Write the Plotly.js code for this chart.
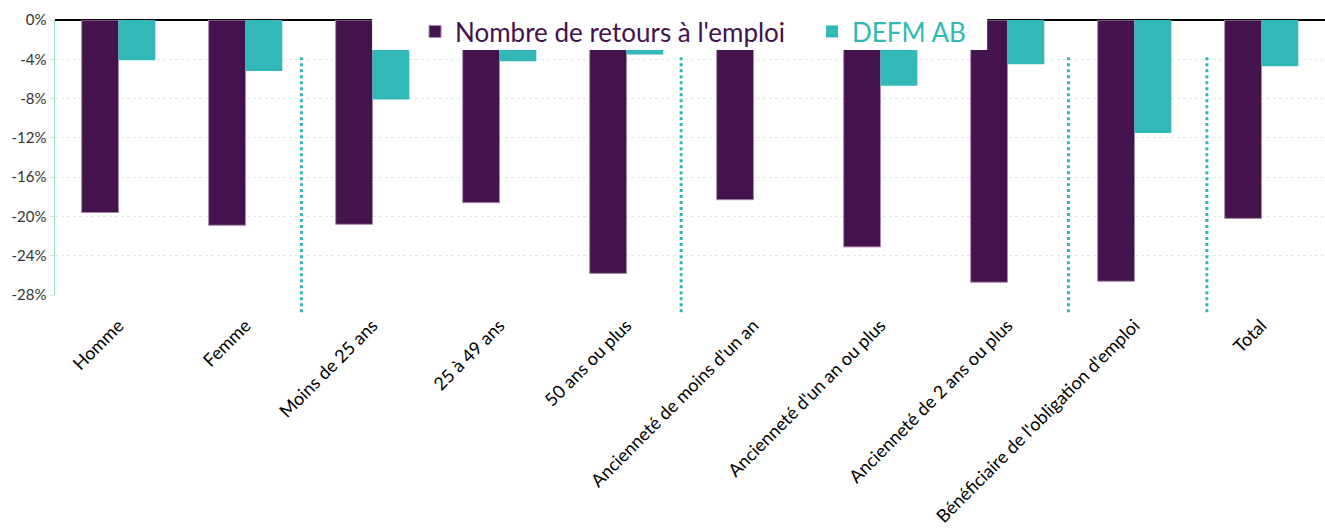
<!DOCTYPE html>
<html><head><meta charset="utf-8">
<script src="https://cdn.plot.ly/plotly-3.0.1.min.js"></script>
<style>html,body{margin:0;padding:0;background:#fff}#chart{width:1325px;height:530px}</style>
</head><body><div id="chart"></div>
<script>
const categories = ["Homme","Femme","Moins de 25 ans","25 à 49 ans","50 ans ou plus","Ancienneté de moins d'un an","Ancienneté d'un an ou plus","Ancienneté de 2 ans ou plus","Bénéficiaire de l'obligation d'emploi","Total"];
const retours = [-19.6,-20.9,-20.8,-18.6,-25.8,-18.3,-23.1,-26.7,-26.6,-20.2];
const defm = [-4.1,-5.2,-8.1,-4.2,-3.5,-2.5,-6.7,-4.5,-11.5,-4.7];
const yTickVals = [0,-4,-8,-12,-16,-20,-24,-28];
const yTickText = ["0%","-4%","-8%","-12%","-16%","-20%","-24%","-28%"];
const separators = [1.44,4.43,7.48,8.57];

const purple = '#44124d', teal = '#33b8b8';
const traces = [
  {type:'bar', x:categories, y:retours, name:'<span style="color:#44124d">Nombre de retours à l\'emploi</span>',
   marker:{color:purple, line:{color:'#a58aa8', width:1}}},
  {type:'bar', x:categories, y:defm, name:'<span style="color:#33b8b8">DEFM AB</span>',
   marker:{color:teal, line:{width:0}}}
];
const shapes = [
  {type:'rect', xref:'paper', yref:'paper', x0:0.2497, x1:0.734, y0:0.891, y1:1.06, fillcolor:'#fff', line:{width:0}, layer:'above'}
];
separators.forEach(s => shapes.push({type:'line', xref:'x', yref:'paper', x0:s, x1:s, y0:0.865, y1:-0.073,
  line:{color:teal, width:3, dash:'dot'}, layer:'above'}));

const layout = {
  width:1325, height:530,
  margin:{l:55, r:0, t:20, b:235},
  paper_bgcolor:'#fff', plot_bgcolor:'#fff',
  barmode:'group', bargap:0.42, bargroupgap:0,
  font:{family:'Lato, "Open Sans", sans-serif', color:'#000'},
  showlegend:true,
  legend:{orientation:'h', x:0.2835, y:0.958, xanchor:'left', yanchor:'middle', bgcolor:'rgba(0,0,0,0)',
    font:{size:26, family:'Lato, sans-serif'}, traceorder:'normal', entrywidth:352},
  xaxis:{type:'category', tickangle:-45, tickfont:{size:18, color:'#000'}, showgrid:false, showline:false, zeroline:false,
    ticks:'outside', ticklen:12, tickcolor:'rgba(0,0,0,0)'},
  yaxis:{range:[-28,0], tickvals:yTickVals, ticktext:yTickText, tickfont:{size:15, color:'#333'},
    showgrid:true, gridcolor:'#d6eee9', griddash:'dot', gridwidth:1,
    zeroline:true, zerolinecolor:'#000', zerolinewidth:2,
    showline:true, linecolor:'#9fdcc8', linewidth:1.5, ticks:'outside', ticklen:4, tickcolor:'#cdebe3'},
  shapes:shapes
};
Plotly.newPlot('chart', traces, layout, {displayModeBar:false, staticPlot:true});
</script></body></html>
